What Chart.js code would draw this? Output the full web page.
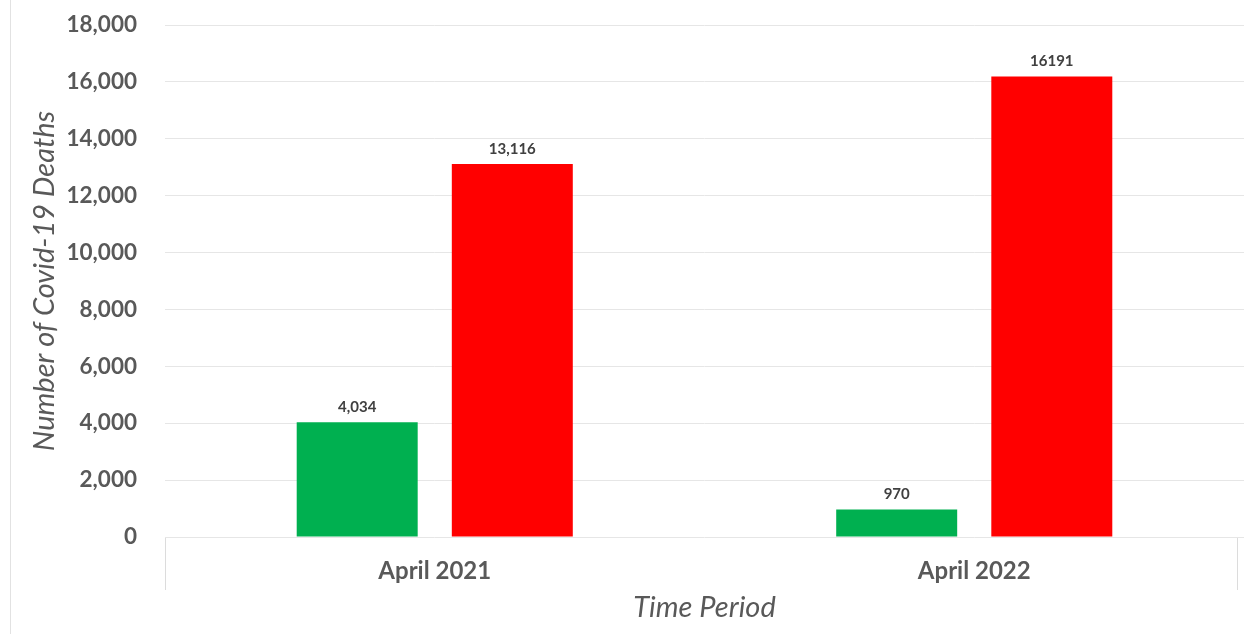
<!DOCTYPE html>
<html>
<head>
<meta charset="utf-8">
<script src="https://cdn.jsdelivr.net/npm/chart.js@4.4.0/dist/chart.umd.min.js"></script>
<style>
  html, body { margin: 0; padding: 0; background: #ffffff; }
  #wrap { width: 1244px; height: 634px; position: relative; }
</style>
</head>
<body>
<div id="wrap"><canvas id="c" width="1244" height="634"></canvas></div>
<script>
const categories = ["April 2021", "April 2022"];
const greenValues = [4034, 970];
const redValues = [13116, 16191];
const greenLabels = ["4,034", "970"];
const redLabels = ["13,116", "16191"];
const yTicks = [0, 2000, 4000, 6000, 8000, 10000, 12000, 14000, 16000, 18000];

const FONT = "Lato, 'Open Sans', sans-serif";
const GRAY = "#595959";

const decor = {
  id: 'decor',
  beforeDraw(chart) {
    const ctx = chart.ctx;
    const a = chart.chartArea;
    ctx.save();
    ctx.strokeStyle = '#e2e2e2';
    ctx.lineWidth = 1;
    ctx.beginPath();
    ctx.moveTo(10.5, 0);
    ctx.lineTo(10.5, chart.height);
    ctx.stroke();
    ctx.strokeStyle = '#dcdcdc';
    ctx.beginPath();
    ctx.moveTo(Math.round(a.left) + 0.5, a.bottom);
    ctx.lineTo(Math.round(a.left) + 0.5, a.bottom + 53);
    ctx.moveTo(Math.round(a.right) - 6.5, a.bottom);
    ctx.lineTo(Math.round(a.right) - 6.5, a.bottom + 53);
    ctx.stroke();
    ctx.restore();
  },
  afterDatasetsDraw(chart) {
    const ctx = chart.ctx;
    const labelSets = [greenLabels, redLabels];
    ctx.save();
    ctx.font = "bold 15px " + FONT;
    ctx.fillStyle = "#404040";
    ctx.textAlign = "center";
    ctx.textBaseline = "middle";
    chart.data.datasets.forEach((ds, di) => {
      const meta = chart.getDatasetMeta(di);
      meta.data.forEach((bar, i) => {
        ctx.fillText(labelSets[di][i], bar.x, bar.y - 15);
      });
    });
    ctx.restore();
  }
};

new Chart(document.getElementById('c'), {
  type: 'bar',
  data: {
    labels: categories,
    datasets: [
      { data: greenValues, backgroundColor: '#00b050', categoryPercentage: 0.575, barPercentage: 0.78 },
      { data: redValues, backgroundColor: '#ff0000', categoryPercentage: 0.575, barPercentage: 0.78 }
    ]
  },
  options: {
    responsive: false,
    animation: false,
    layout: { padding: { top: 25, right: 0, bottom: 0, left: 0 } },
    plugins: { legend: { display: false }, tooltip: { enabled: false } },
    scales: {
      x: {
        grid: { display: false, drawTicks: false },
        border: { display: false },
        ticks: { color: GRAY, font: { family: FONT, size: 24, weight: 'bold' }, padding: 20 },
        title: { display: true, text: 'Time Period', color: GRAY, font: { family: FONT, size: 29, style: 'italic' }, padding: { top: 0, bottom: 9 } },
        afterFit(scale) { scale.height = 97; scale.paddingLeft = 0; scale.paddingRight = 0; }
      },
      y: {
        min: 0, max: 18000,
        afterBuildTicks(scale) { scale.ticks = yTicks.map(v => ({ value: v })); },
        grid: { color: '#e6e6e6', drawTicks: false },
        border: { display: false },
        ticks: {
          color: GRAY, font: { family: FONT, size: 22.5, weight: 'bold' }, padding: 28,
          callback: (v) => v.toLocaleString('en-US')
        },
        title: { display: true, text: 'Number of Covid-19 Deaths', color: GRAY, font: { family: FONT, size: 29, style: 'italic' }, padding: { top: 27, bottom: 0 } },
        afterFit(scale) { scale.width = 165; scale.paddingTop = 0; scale.paddingBottom = 0; }
      }
    }
  },
  plugins: [decor]
});
</script>
</body>
</html>
